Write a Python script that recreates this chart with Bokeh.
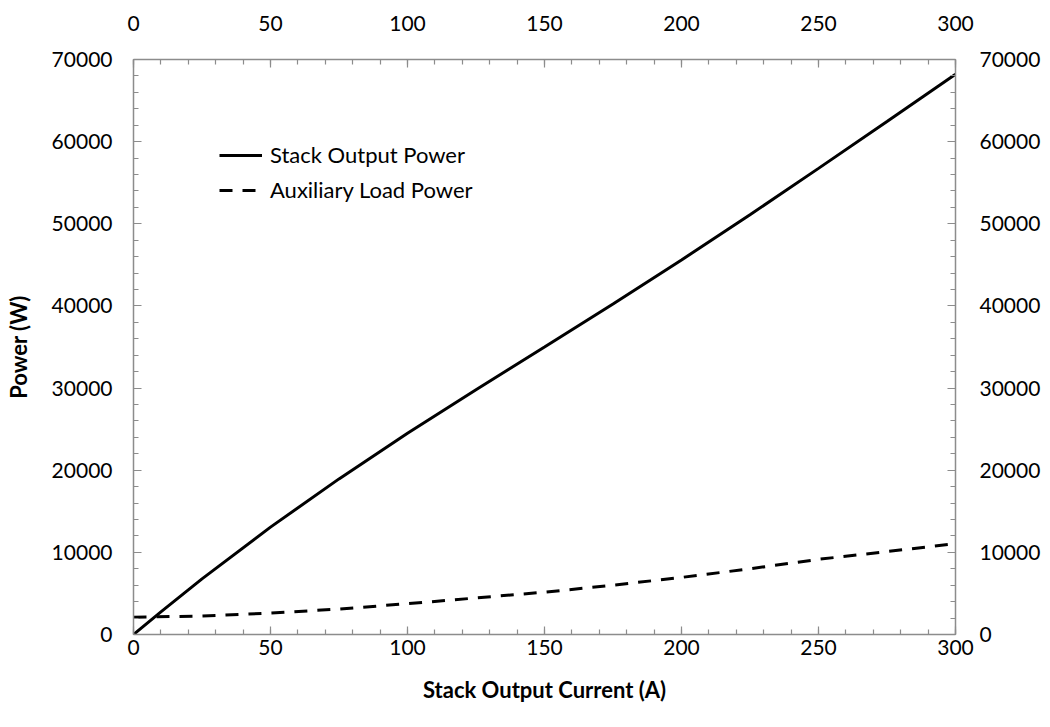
from bokeh.plotting import figure
from bokeh.models import Range1d, LinearAxis, FixedTicker, Legend, LegendItem
from bokeh.embed import file_html
from bokeh.resources import INLINE

current_stack = [0, 10, 25, 50, 75, 100, 125, 150, 175, 200, 225, 250, 275, 300]
power_stack = [0, 2750, 6770, 13070, 18945, 24495, 29795, 34995, 40245, 45595, 51095, 56745, 62445, 68195]
current_aux = [0, 25, 50, 75, 100, 125, 150, 175, 200, 225, 250, 275, 300]
power_aux = [2100, 2250, 2600, 3100, 3750, 4450, 5150, 6000, 6950, 8000, 9150, 10100, 11050]

x_major = [0, 50, 100, 150, 200, 250, 300]
x_minor = list(range(0, 301, 10))
y_major = [0, 10000, 20000, 30000, 40000, 50000, 60000, 70000]
y_minor = list(range(0, 70001, 2000))

FONT = "Lato"
GRAY = "#8c8c8c"

p = figure(width=1050, height=727, output_backend="svg", toolbar_location=None,
           x_range=Range1d(0, 300), y_range=Range1d(0, 70000),
           x_axis_location=None, y_axis_location=None,
           min_border_left=133, min_border_right=95, min_border_top=59, min_border_bottom=93)
p.xgrid.grid_line_color = None
p.ygrid.grid_line_color = None
p.outline_line_color = None
p.background_fill_color = "white"
p.border_fill_color = "white"

def style(ax, standoff):
    ax.axis_line_color = GRAY
    ax.axis_line_width = 1.5
    ax.major_tick_line_color = GRAY
    ax.minor_tick_line_color = GRAY
    ax.major_tick_line_width = 1.2
    ax.minor_tick_line_width = 1.2
    ax.major_tick_in = 8
    ax.major_tick_out = 0
    ax.minor_tick_in = 5
    ax.minor_tick_out = 0
    ax.major_label_text_font = FONT
    ax.major_label_text_font_size = "21px"
    ax.major_label_text_color = "black"
    ax.major_label_standoff = standoff
    ax.axis_label_text_font = FONT
    ax.axis_label_text_font_size = "22px"
    ax.axis_label_text_font_style = "bold"
    ax.axis_label_text_color = "black"

xt = FixedTicker(ticks=x_major, minor_ticks=x_minor)
yt = FixedTicker(ticks=y_major, minor_ticks=y_minor)

bottom = LinearAxis(ticker=xt, axis_label="Stack Output Current (A)")
style(bottom, 5)
bottom.axis_label_standoff = 18
top = LinearAxis(ticker=xt)
style(top, 29)
left = LinearAxis(ticker=yt, axis_label="Power (W)")
style(left, 21)
left.axis_label_standoff = 17
right = LinearAxis(ticker=yt)
style(right, 24)

p.add_layout(bottom, "below")
p.add_layout(top, "above")
p.add_layout(left, "left")
p.add_layout(right, "right")

r1 = p.line(current_stack, power_stack, line_color="black", line_width=3)
r2 = p.line(current_aux, power_aux, line_color="black", line_width=3, line_dash="13 10")

legend = Legend(items=[LegendItem(label="Stack Output Power", renderers=[r1]),
                       LegendItem(label="Auxiliary Load Power", renderers=[r2])],
                location=(86, 431))
legend.border_line_color = None
legend.background_fill_alpha = 0
legend.padding = 0
legend.margin = 0
legend.spacing = 8
legend.glyph_width = 43
legend.glyph_height = 22
legend.label_standoff = 8
legend.label_height = 22
legend.label_text_font = FONT
legend.label_text_font_size = "22px"
legend.label_text_color = "black"
p.add_layout(legend, "center")

open("out.html", "w").write(file_html(p, INLINE))
